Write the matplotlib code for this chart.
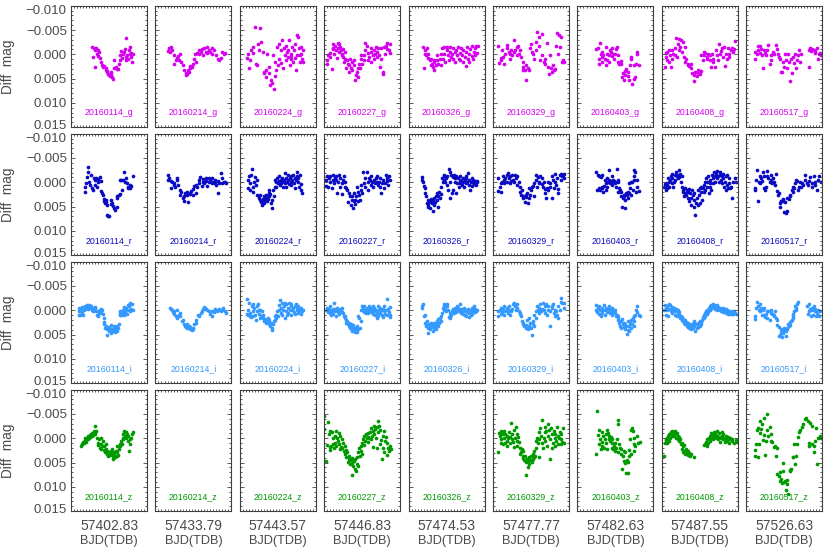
import numpy as np
import matplotlib
matplotlib.use("Agg")
import matplotlib.pyplot as plt
from matplotlib.ticker import MultipleLocator
from matplotlib.transforms import ScaledTranslation

plt.rcParams['font.family'] = ['Liberation Sans', 'DejaVu Sans']

nights = ['20160114', '20160214', '20160224', '20160227', '20160326',
          '20160329', '20160403', '20160408', '20160517']
bjd_start = ['57402.83', '57433.79', '57443.57', '57446.83', '57474.53',
             '57477.77', '57482.63', '57487.55', '57526.63']
filters = ['g', 'r', 'i', 'z']
colors = ['#D400EE', '#0A0AC4', '#3399FF', '#009A00']
ytick_vals = [-0.010, -0.005, 0.000, 0.005, 0.010, 0.015]

# light curves, flat pairs: (time as % of the night window, diff mag in mmag)
g_0114 = [27,-1.4, 30,-1.3, 33,-1.2, 35,-0.8, 32,-0.8, 29,0.5, 34,-0.1, 37,-0.5, 38,0.7, 32,2.7,
          36,0.4, 39,1.6, 41,2.2, 42,2.6, 44,2.4, 46,2.9, 46,3.3, 47,3.4, 48,3.7, 49,4.0,
          50,4.2, 51,4.5, 52,4.1, 53,3.6, 54,4.6, 55,5.0, 56,2.9, 57,1.2, 59,2.6, 60,3.1,
          62,3.1, 63,1.9, 64,1.1, 65,0.1, 66,-0.7, 67,0.7, 68,-0.1, 70,-0.5, 71,-1.0, 72,-3.3,
          72,0.5, 73,1.1, 74,0.2, 75,0.9, 76,-0.8, 77,-0.1, 78,-1.4, 79,-0.3, 79,0.5, 80,1.6, 81,0.0]
g_0214 = [16,-0.7, 18,-1.2, 21,-1.6, 19,-0.5, 22,-0.8, 24,0.2, 25,1.9, 27,1.2, 28,0.7, 30,0.4,
          31,1.1, 33,-0.1, 34,1.6, 36,2.2, 38,3.3, 40,3.8, 40,4.3, 42,4.1, 43,3.3, 44,3.6,
          46,2.4, 46,2.9, 48,2.6, 49,2.0, 51,0.9, 52,-0.1, 53,1.6, 55,-0.3, 57,-0.8, 58,0.0,
          60,-0.5, 61,-1.0, 63,0.2, 64,-1.2, 66,-0.5, 68,-1.4, 68,-0.3, 70,-0.8, 72,-0.5, 74,-1.2,
          75,-0.1, 77,-0.8, 80,0.2, 82,0.9, 84,1.2, 86,0.7, 88,-0.5, 90,-0.1, 92,-0.3]
g_0224 = [9,0.7, 11,-0.1, 12,2.9, 13,1.2, 15,-0.8, 17,-0.3, 18,-1.5, 20,-5.7, 21,1.9, 23,2.2,
          24,-2.2, 25,-0.8, 27,-5.4, 28,-2.5, 30,-0.5, 32,3.9, 32,3.6, 34,4.6, 35,3.3, 36,-0.1,
          38,3.8, 39,2.6, 40,6.3, 41,5.3, 42,6.0, 44,0.2, 45,7.2, 46,4.5, 46,1.6, 47,3.3,
          49,-1.5, 50,2.2, 51,-2.2, 52,0.9, 54,-0.8, 54,1.8, 56,-2.9, 57,2.9, 58,-1.2, 59,0.2,
          61,1.2, 61,-1.8, 63,0.5, 64,-0.8, 65,-2.9, 66,2.2, 67,0.9, 68,-0.1, 69,-1.5, 70,1.6,
          71,-0.8, 72,-2.2, 74,3.3, 75,-3.9, 75,0.2, 76,-3.5, 78,-1.2, 79,1.6, 80,-0.1, 81,-1.5,
          82,0.9, 83,-0.8, 83,1.6, 62,-0.5, 68,0.4, 73,0.7, 79,0.2]
g_0227 = [4,1.9, 4,1.1, 5,0.2, 7,-0.3, 8,0.5, 10,3.1, 11,-1.0, 11,-2.2, 12,-1.2, 13,-0.1,
          14,-1.8, 15,-0.8, 17,0.7, 18,-2.3, 18,-1.2, 19,-2.2, 20,-0.5, 21,-1.5, 22,-0.8, 23,0.2,
          24,-0.1, 25,-1.0, 25,0.5, 26,1.6, 27,-0.5, 28,0.9, 29,2.9, 30,1.2, 31,1.9, 32,3.6,
          33,2.2, 34,0.9, 35,2.9, 36,1.6, 37,3.3, 39,1.2, 39,2.2, 41,5.2, 42,4.3, 43,3.6,
          44,4.6, 45,2.9, 46,1.9, 47,2.9, 48,0.9, 49,0.2, 50,1.9, 52,0.2, 53,1.2, 54,-0.8,
          54,-2.3, 56,-1.8, 57,-0.3, 58,1.2, 59,0.5, 61,-0.5, 61,1.6, 62,-1.2, 64,0.2, 65,0.9,
          66,-0.8, 67,-0.1, 68,-1.5, 69,0.5, 70,-0.5, 71,-1.2, 72,0.2, 74,2.6, 75,0.9, 75,-1.2,
          77,3.6, 78,4.1, 79,-1.5, 80,-0.1, 81,-1.8, 82,-1.0, 83,-2.3, 85,-0.8, 86,-2.2, 86,-0.3]
g_0326 = [19,-1.6, 20,2.9, 21,-0.1, 22,-0.8, 23,0.2, 24,-1.2, 25,0.7, 26,-0.1, 28,1.2, 29,2.2,
          29,0.9, 31,1.9, 32,2.6, 33,1.6, 34,3.3, 34,1.2, 36,2.2, 37,0.2, 38,1.2, 39,1.9,
          41,0.9, 42,2.2, 42,-0.1, 44,-1.2, 45,0.9, 46,-1.5, 47,-0.1, 48,1.6, 50,-0.8, 50,-1.5,
          52,0.2, 53,1.2, 54,-0.5, 55,-1.5, 56,0.5, 57,-0.1, 58,-1.2, 59,0.9, 61,-0.5, 61,1.6,
          63,-0.8, 64,0.2, 65,-1.5, 66,0.9, 67,-0.3, 68,1.2, 69,-1.2, 70,0.2, 71,1.6, 72,-0.8,
          74,0.5, 75,2.4, 76,-0.5, 77,-1.5, 78,0.9, 79,-0.1, 80,1.6, 81,-1.0, 83,0.4, 83,-1.8,
          85,0.9, 86,-0.5, 87,-1.2, 88,0.2, 89,-1.8, 90,-0.3, 91,-1.8]
g_0329 = [7,-1.7, 8,1.8, 10,0.7, 11,1.2, 12,-0.8, 13,0.5, 15,1.9, 16,-0.1, 18,-1.2, 19,-2.0,
          21,-0.5, 22,0.9, 23,0.0, 24,-0.8, 25,0.2, 27,-0.5, 28,-3.0, 29,-0.8, 31,-1.5, 32,0.2,
          33,-1.8, 34,-0.1, 36,-0.8, 37,0.5, 39,3.3, 39,2.6, 40,1.6, 42,3.3, 43,2.2, 44,5.3,
          46,2.9, 47,3.3, 49,-1.2, 50,-2.2, 51,-0.5, 53,-0.1, 54,0.9, 56,-2.5, 57,-0.8, 58,-4.6,
          60,-1.8, 61,-3.5, 62,1.2, 64,0.2, 65,-4.2, 67,1.6, 68,0.9, 69,1.9, 71,-2.4, 72,2.6,
          74,4.1, 75,0.2, 76,2.9, 78,3.6, 79,2.2, 80,3.3, 82,3.1, 83,-1.8, 84,-4.4, 86,-0.1,
          87,-3.9, 88,-1.5, 89,-3.5, 91,1.6, 92,1.1, 93,1.6]
g_0403 = [25,-1.0, 27,-1.2, 28,2.0, 29,0.9, 30,-2.3, 31,-0.1, 32,0.5, 32,1.6, 33,-0.5, 34,0.2,
          36,0.9, 37,2.2, 38,-1.4, 39,-0.1, 39,1.2, 41,0.2, 42,1.6, 43,-0.8, 44,-0.5, 45,0.4,
          46,-1.2, 47,0.0, 48,0.9, 50,-0.1, 51,-1.0, 52,-1.5, 53,0.2, 54,1.6, 55,1.9, 57,1.4,
          58,2.0, 59,4.6, 60,3.9, 61,5.2, 62,3.4, 63,4.3, 64,3.1, 66,3.6, 67,4.5, 68,5.3,
          69,2.2, 70,0.9, 71,0.5, 72,6.2, 74,5.0, 75,2.2, 76,4.6, 77,1.9, 78,-0.1, 79,-0.5, 81,2.1]
g_0408 = [4,2.7, 5,-0.3, 6,0.5, 7,-0.5, 7,1.1, 9,-0.8, 10,1.6, 11,0.2, 12,2.6, 13,-0.8,
          14,0.9, 15,-0.1, 17,-1.2, 18,0.2, 19,-3.4, 20,0.5, 21,-2.2, 22,-3.2, 23,-0.8, 24,-1.5,
          25,-3.0, 27,-0.5, 28,-2.5, 29,0.5, 30,-1.5, 31,1.6, 32,0.9, 34,2.2, 35,1.9, 36,2.4,
          38,2.0, 39,2.9, 40,3.9, 42,5.4, 43,4.3, 44,3.6, 46,4.5, 47,3.8, 48,3.3, 50,4.1,
          51,3.4, 52,0.2, 54,1.2, 55,-0.5, 56,0.2, 57,-0.3, 59,0.5, 60,0.9, 61,-0.1, 63,0.2,
          64,1.2, 65,2.7, 66,-0.1, 67,0.9, 68,1.6, 70,2.6, 71,-0.8, 72,0.2, 74,1.2, 75,-2.2,
          76,-0.1, 78,-0.7, 79,-1.2, 80,0.5, 82,-1.6, 83,2.4, 84,-0.1, 86,0.9, 87,-1.2, 88,-0.1,
          89,0.5, 91,-0.8, 92,-1.2, 94,-0.5, 95,-1.0, 96,-2.7]
g_0517 = [11,-0.5, 12,0.9, 14,0.0, 15,-0.8, 16,-1.8, 18,-1.8, 18,-0.3, 20,-1.0, 21,0.2, 22,2.9,
          24,-0.8, 25,-0.3, 26,0.2, 28,-0.8, 29,-2.0, 31,1.9, 32,1.1, 33,0.2, 35,-0.5, 36,-0.1,
          39,-2.0, 40,-1.0, 42,-0.1, 43,0.5, 44,0.9, 46,3.6, 47,3.6, 48,1.6, 50,2.6, 51,0.0,
          52,1.1, 54,2.9, 55,-0.1, 56,1.6, 57,5.4, 59,0.9, 60,3.9, 61,0.5, 63,1.8, 64,-0.1,
          65,2.9, 67,1.1, 68,0.2, 69,-0.8, 71,1.6, 72,-0.1, 82,2.6, 83,-0.8, 84,-1.2, 85,-0.7,
          87,-1.0, 89,-0.8, 90,-0.3, 91,-0.7, 93,-1.2, 94,0.9, 96,0.0, 97,-0.3, 98,0.2]

r_0114 = [18,0.9, 18,1.9, 20,0.2, 21,-1.0, 22,-2.2, 23,-3.2, 24,-0.1, 25,0.5, 26,-1.5, 27,1.1,
          29,1.6, 30,-0.8, 31,0.5, 32,-0.5, 33,-0.8, 34,0.9, 35,-0.7, 36,-0.1, 38,-1.0, 39,-0.3,
          39,1.8, 41,2.2, 42,2.6, 43,3.4, 44,3.8, 45,4.3, 46,3.6, 46,4.1, 47,4.6, 48,6.8,
          49,7.0, 50,7.0, 52,4.5, 53,3.6, 54,4.3, 55,4.8, 57,5.2, 58,5.6, 60,5.0, 61,2.9,
          61,3.3, 63,2.6, 64,-0.5, 65,2.4, 66,-0.4, 67,1.6, 68,-0.5, 70,-2.2, 71,-0.1, 72,-0.8,
          74,0.2, 75,0.9, 75,1.1, 77,0.5, 78,1.2, 79,0.7, 81,-1.2]
r_0214 = [16,-1.6, 17,-0.5, 18,-0.8, 20,1.2, 21,-0.3, 22,0.0, 24,0.2, 25,0.5, 26,0.9, 28,-0.8,
          29,-0.5, 30,0.5, 32,2.7, 33,1.6, 34,1.9, 36,3.3, 37,3.8, 38,2.9, 39,2.2, 41,2.6,
          42,1.9, 43,4.1, 45,2.4, 46,2.2, 47,1.8, 49,2.6, 50,1.4, 51,0.7, 53,2.2, 54,0.5,
          55,0.9, 57,0.2, 58,-0.5, 59,-1.0, 61,0.7, 62,-0.7, 63,-0.1, 64,0.2, 66,-0.8, 67,-0.3,
          68,0.7, 70,-0.8, 71,-0.1, 72,-0.5, 74,0.2, 75,-0.8, 76,-0.1, 78,-0.5, 79,0.2, 80,0.5,
          82,-0.3, 83,2.2, 84,0.2, 86,-2.0, 87,-0.8, 88,0.2, 90,-0.1, 91,0.0, 93,0.2]
r_0224 = [11,1.1, 11,-0.5, 12,-1.2, 13,0.2, 14,1.6, 15,-1.5, 16,-2.7, 17,0.9, 18,1.9, 19,-0.1,
          20,-1.0, 21,0.5, 22,-0.5, 23,2.6, 25,2.9, 25,3.3, 26,2.6, 27,3.6, 28,4.1, 29,4.6,
          30,3.4, 31,3.8, 32,4.3, 32,2.9, 33,3.6, 34,3.3, 35,2.6, 36,3.9, 37,3.4, 38,2.2,
          39,2.9, 39,1.6, 40,2.4, 41,4.3, 42,5.2, 43,3.6, 44,1.6, 45,2.9, 46,0.9, 46,-0.5,
          47,0.9, 48,-0.1, 49,-0.8, 50,0.2, 51,-1.2, 52,-0.3, 53,0.5, 54,-0.5, 54,0.2, 55,-0.8,
          56,-0.1, 57,0.9, 58,-0.5, 59,-2.0, 60,0.2, 61,-0.8, 61,0.9, 62,-0.1, 63,-1.5, 64,-0.5,
          65,0.4, 66,-0.8, 67,-0.1, 68,-1.2, 68,0.5, 69,-0.5, 70,-1.5, 71,0.2, 72,-0.8, 73,1.1,
          74,-0.5, 75,-1.2, 75,-2.2, 76,-0.1, 77,-0.8, 78,0.9, 79,-1.5, 80,0.4, 81,1.6, 82,2.2]
r_0227 = [2,0.7, 3,-0.5, 4,-1.2, 5,0.9, 6,-0.8, 7,-0.1, 8,-1.2, 10,1.1, 11,-0.5, 12,-1.5,
          13,0.2, 14,-0.8, 15,-1.2, 16,-0.5, 17,2.2, 18,-0.1, 19,-1.5, 21,0.9, 21,-0.8, 23,2.4,
          24,0.2, 25,-0.5, 26,-1.2, 27,0.9, 28,-0.1, 29,1.2, 30,1.6, 31,4.1, 32,2.2, 34,2.9,
          35,4.6, 36,3.6, 37,2.9, 38,5.2, 39,3.9, 39,2.2, 40,3.6, 41,4.5, 42,2.9, 43,0.9,
          44,1.9, 45,3.9, 46,2.6, 47,3.6, 48,1.6, 49,0.5, 50,2.2, 51,-2.2, 52,0.2, 54,-0.8,
          54,0.9, 56,-2.2, 57,-0.1, 58,1.6, 59,-0.8, 60,-0.5, 61,0.5, 62,-1.2, 63,-0.1, 64,0.9,
          65,-0.5, 67,0.2, 68,-0.8, 69,-0.1, 70,-1.2, 71,0.5, 72,-0.1, 73,0.9, 74,-0.8, 75,2.2,
          76,0.2, 78,-0.5, 79,1.1, 80,0.2, 81,-1.5, 82,-0.3, 83,-0.8, 84,0.5, 85,-1.2, 86,-0.5]
r_0326 = [18,-1.0, 18,-0.5, 19,-0.1, 20,0.7, 21,1.1, 22,2.2, 23,2.9, 24,4.3, 25,5.0, 25,3.6,
          26,4.6, 27,4.1, 28,5.3, 29,3.9, 30,3.4, 31,4.3, 32,5.9, 32,3.6, 33,4.6, 34,3.3,
          35,4.1, 36,2.9, 37,3.6, 38,2.2, 39,2.9, 39,5.0, 40,1.9, 41,3.3, 42,2.4, 43,0.9,
          44,-0.8, 45,-0.1, 46,-1.2, 47,-0.5, 47,-1.5, 48,-0.1, 49,-0.8, 50,0.5, 51,-1.2, 52,1.6,
          53,-2.7, 54,-0.1, 54,-2.2, 55,3.3, 56,-1.5, 57,2.2, 58,-1.0, 59,1.6, 60,-1.5, 61,-0.1,
          61,-0.8, 62,2.2, 63,-1.2, 64,0.2, 65,-0.8, 66,0.9, 67,-0.3, 68,-1.2, 68,0.2, 69,-0.5,
          70,0.5, 71,-0.8, 72,-0.1, 73,0.9, 74,-0.5, 75,-1.2, 75,0.2, 76,-0.8, 77,-0.1, 78,-2.0,
          79,0.5, 80,-0.5, 81,1.6, 82,-0.1, 83,-0.8, 83,0.7, 84,-0.1, 85,-0.5, 86,0.4, 87,-0.3,
          88,0.2, 89,0.5, 90,-0.3, 90,0.0]
r_0329 = [7,1.8, 7,-0.8, 9,0.9, 10,1.9, 11,0.2, 12,-0.1, 13,-1.2, 14,-0.5, 15,0.2, 16,-0.8,
          18,-1.5, 18,-0.1, 20,-2.0, 21,-0.8, 22,0.2, 23,-1.2, 24,-0.3, 25,-1.5, 26,-0.5, 28,-0.1,
          29,-1.4, 30,-0.8, 31,-1.2, 32,0.5, 34,-0.1, 35,0.9, 36,1.9, 37,2.6, 38,1.6, 39,2.9,
          40,3.3, 42,4.1, 43,2.6, 44,3.1, 45,2.2, 46,4.3, 47,3.3, 48,1.2, 49,2.6, 50,1.6,
          51,0.9, 52,0.7, 54,2.9, 54,0.2, 56,-0.5, 57,-1.6, 58,0.9, 59,-1.0, 60,-0.1, 61,0.2,
          62,-1.2, 64,0.4, 65,-0.8, 66,0.9, 67,-0.1, 68,1.4, 69,2.2, 70,3.3, 71,1.2, 72,-0.1,
          73,1.6, 75,0.2, 75,0.9, 77,3.3, 78,-1.2, 79,-0.5, 80,1.1, 81,-1.8, 82,-0.1, 83,0.5,
          84,-0.8, 86,2.2, 86,1.4, 88,-1.5, 89,-0.5, 90,-1.8, 91,-1.2, 92,-1.5, 93,-1.8, 94,-0.8]
r_0403 = [25,-2.2, 26,1.6, 27,-1.5, 28,1.1, 29,-1.2, 30,1.6, 31,-1.0, 32,0.9, 32,1.2, 33,-1.5,
          34,1.9, 35,0.7, 36,-0.5, 37,1.6, 38,0.2, 39,-0.8, 39,0.9, 40,-0.1, 41,-0.5, 42,-2.5,
          43,0.2, 44,-0.3, 45,-1.2, 46,-0.1, 46,0.5, 47,-0.5, 48,-0.3, 49,0.2, 50,-0.1, 51,0.9,
          52,-2.7, 53,-0.5, 54,-0.1, 54,1.9, 55,1.2, 56,1.6, 57,2.0, 58,2.9, 59,5.0, 60,3.3,
          61,2.6, 61,2.9, 62,3.6, 63,5.2, 64,2.2, 65,2.6, 66,1.9, 67,3.3, 68,2.2, 68,0.2,
          69,1.2, 70,-0.1, 71,2.6, 72,-0.1, 73,1.6, 74,-0.5, 75,-2.5, 75,-1.2, 76,-2.2, 77,1.9,
          78,-0.5, 79,0.9, 81,1.8]
r_0408 = [3,0.9, 4,0.4, 5,1.6, 6,0.2, 7,0.5, 7,1.2, 8,-0.8, 9,-0.1, 10,0.9, 11,-0.5,
          12,-1.2, 13,0.2, 14,-1.8, 14,-0.8, 15,0.9, 16,-0.1, 17,-1.5, 18,-0.5, 19,-2.2, 20,-1.2,
          21,-0.8, 21,-1.5, 22,-2.5, 23,-1.0, 24,-1.8, 25,-0.1, 26,-1.2, 27,0.9, 28,1.9, 28,1.6,
          29,2.9, 30,2.2, 31,1.2, 32,2.6, 33,1.6, 34,3.3, 35,1.9, 36,3.9, 36,1.4, 37,2.2,
          38,4.6, 39,3.3, 40,1.6, 41,2.6, 42,5.0, 43,3.6, 43,2.2, 44,6.7, 45,4.3, 46,3.3,
          47,4.6, 48,1.6, 49,2.6, 50,1.1, 50,4.3, 51,2.0, 52,0.9, 53,3.6, 54,1.2, 55,1.9,
          56,0.5, 57,-0.1, 57,1.6, 58,-0.8, 59,0.9, 60,-0.1, 61,-1.2, 62,2.2, 63,0.2, 64,0.9,
          64,-0.5, 65,1.6, 66,-1.5, 67,0.2, 68,-0.8, 69,-2.2, 70,-1.2, 70,-0.1, 71,-1.8, 72,-0.8,
          73,-2.3, 74,-1.2, 75,-0.1, 76,-1.5, 77,-2.2, 78,-0.5, 79,-1.2, 79,0.2, 80,-1.8, 81,-0.8,
          82,0.9, 83,-0.1, 84,-1.2, 85,1.6, 86,0.5, 86,-1.5, 87,1.2, 88,0.2, 89,-0.8, 90,1.2,
          91,0.9, 93,3.3, 94,-0.1, 96,-0.8, 98,0.0]
r_0517 = [11,1.6, 12,1.2, 13,-0.5, 14,-2.5, 16,3.8, 17,-0.1, 18,-1.2, 18,0.2, 19,-0.8, 21,-0.3,
          22,-2.2, 23,-1.2, 24,1.2, 25,1.6, 26,0.9, 27,-1.2, 28,-2.3, 29,-0.8, 31,-0.1, 32,-1.5,
          33,-0.5, 34,0.2, 35,-0.8, 36,-0.1, 38,0.5, 39,-1.8, 40,1.8, 42,2.6, 43,2.2, 44,5.0,
          45,4.3, 46,3.8, 46,3.9, 48,3.8, 49,3.4, 50,6.1, 51,4.1, 52,6.3, 54,3.3, 54,5.9,
          56,3.4, 57,2.9, 58,2.6, 60,1.6, 61,1.9, 62,0.9, 63,1.2, 64,0.2, 66,-0.5, 67,-0.3,
          68,1.6, 70,0.9, 71,-0.1, 72,0.9, 74,0.2, 75,0.5, 77,-0.5, 78,-1.5, 80,0.2, 81,0.5,
          82,-0.3, 84,-1.0, 86,0.9, 87,0.2, 89,-1.2, 90,-0.1, 91,0.5, 93,1.6, 95,-0.5, 96,-1.2, 98,-0.1]

i_0114 = [10,0.9, 11,0.2, 11,-0.5, 12,0.9, 13,-0.1, 14,-0.7, 15,0.5, 16,0.9, 17,0.0, 18,-0.3,
          18,-0.8, 19,-0.5, 20,-0.7, 21,-1.0, 22,-0.8, 23,-0.3, 24,-1.0, 25,-0.7, 25,-0.5, 26,-0.8,
          27,-0.1, 28,-0.5, 29,0.2, 30,-0.3, 31,-0.7, 32,-0.1, 32,-0.5, 33,0.2, 34,0.9, 35,1.2,
          36,0.2, 37,0.5, 38,-0.1, 39,0.5, 39,-0.3, 41,0.0, 42,0.7, 43,1.6, 43,2.4, 44,2.9,
          45,3.6, 46,3.3, 47,3.9, 48,5.0, 49,3.8, 50,4.3, 50,3.4, 51,3.9, 52,4.6, 53,3.1,
          54,3.8, 55,4.3, 56,3.3, 57,3.9, 57,3.4, 58,4.5, 59,3.6, 60,4.3, 61,3.3, 62,3.6,
          63,2.9, 64,0.9, 64,0.2, 65,0.5, 66,0.9, 67,0.7, 68,0.4, 69,-0.1, 70,-0.7, 70,0.9,
          71,0.4, 72,-0.5, 73,-0.1, 74,0.7, 75,-1.0, 76,-0.1, 76,-0.8, 77,-1.5, 78,0.2, 79,-0.3,
          80,-1.2, 81,-0.1]
i_0214 = [19,-0.5, 20,-0.3, 22,0.0, 23,0.4, 24,0.2, 25,0.7, 27,1.1, 28,0.0, 29,1.6, 31,0.9,
          32,0.5, 33,1.2, 35,2.2, 36,1.9, 37,2.9, 39,3.3, 40,3.4, 41,2.9, 42,3.6, 44,3.3,
          45,3.8, 46,3.4, 48,4.1, 49,3.6, 50,3.9, 51,2.9, 53,2.6, 54,1.9, 56,0.9, 58,1.2,
          60,0.5, 61,0.2, 63,-0.3, 64,-0.7, 65,-0.5, 67,-0.3, 68,-0.1, 70,0.2, 72,0.7, 74,1.1,
          75,0.2, 77,0.4, 79,-0.3, 81,0.2, 82,0.0, 84,-0.3, 86,0.2, 88,-0.1, 89,-0.5, 91,0.2, 93,0.5]
i_0224 = [9,-2.3, 10,0.7, 11,0.9, 11,-0.1, 12,-1.5, 13,1.1, 14,0.5, 15,1.4, 16,-0.8, 17,0.2,
          18,-1.2, 18,1.2, 19,-0.5, 20,0.9, 21,1.9, 22,0.2, 23,-0.8, 24,-1.2, 25,-0.1, 25,0.7,
          26,1.6, 27,-0.1, 28,1.2, 29,0.2, 30,0.9, 31,1.6, 32,1.9, 32,2.2, 33,1.8, 34,2.6,
          35,2.0, 36,2.2, 37,1.6, 38,2.9, 39,2.4, 39,1.9, 40,3.3, 41,2.6, 42,3.6, 43,4.1,
          44,2.9, 45,2.2, 46,1.2, 46,1.9, 47,0.9, 48,1.6, 49,0.2, 50,1.1, 51,-0.1, 52,-1.0,
          53,-2.2, 54,0.5, 54,-0.5, 55,-1.5, 56,0.9, 57,-0.1, 58,-0.8, 59,1.6, 60,-1.6, 61,0.2,
          61,-1.2, 62,0.9, 63,-0.5, 64,0.5, 65,-1.5, 66,-0.1, 67,-0.8, 68,0.9, 68,-1.2, 69,0.0,
          70,-0.5, 71,0.4, 72,-0.8, 73,0.7, 74,-1.2, 75,-0.1, 75,-0.5, 76,0.5, 77,-0.8, 78,0.2,
          79,-0.3, 80,0.7, 81,-0.5, 82,0.2, 83,-0.1]
i_0227 = [3,0.0, 4,-0.5, 5,0.4, 6,-0.3, 7,0.5, 7,0.0, 8,-0.8, 9,0.9, 10,0.2, 11,-0.3,
          12,0.7, 13,-1.5, 14,0.2, 14,-0.3, 15,1.1, 16,0.0, 17,-0.5, 18,0.4, 19,-0.1, 20,0.7,
          21,-0.3, 21,0.2, 22,-0.1, 23,0.4, 24,-0.5, 25,0.5, 26,1.2, 27,1.6, 28,1.1, 29,2.0,
          29,2.6, 30,2.2, 31,2.9, 32,3.3, 33,2.6, 34,3.6, 35,2.9, 36,3.9, 36,3.3, 37,4.3,
          38,3.1, 39,3.8, 40,4.5, 41,3.6, 42,4.3, 43,3.3, 43,4.5, 44,3.9, 45,1.2, 46,1.6,
          47,3.6, 48,-0.1, 49,2.2, 50,-0.8, 50,0.0, 51,-0.5, 52,0.4, 53,-0.8, 54,0.0, 55,0.5,
          56,-0.5, 57,0.2, 57,-0.3, 58,0.5, 59,-0.8, 60,0.0, 61,-0.5, 62,0.4, 63,-0.1, 64,-0.8,
          64,0.7, 65,0.2, 66,-0.5, 67,0.9, 68,-0.1, 69,1.6, 70,0.5, 71,-0.8, 71,1.1, 72,-0.1,
          73,-0.5, 74,0.5, 75,0.0, 76,0.9, 77,-0.3, 78,1.4, 79,0.2, 79,-0.8, 80,0.7, 81,-0.1,
          82,0.9, 83,-2.3, 84,-0.3, 85,0.4, 86,-0.7, 86,0.9, 87,1.4]
i_0326 = [18,-0.8, 18,-0.5, 19,-1.2, 20,1.1, 21,0.9, 22,2.6, 23,3.3, 24,2.2, 25,3.1, 25,3.6,
          26,4.6, 27,2.9, 28,3.9, 29,3.4, 30,2.6, 31,3.3, 32,4.3, 32,2.9, 33,3.6, 34,2.6,
          35,3.3, 36,3.8, 37,2.9, 38,2.2, 39,3.3, 39,1.8, 40,2.6, 41,1.6, 42,2.2, 43,1.2,
          44,0.5, 45,-0.5, 46,-0.1, 47,-0.8, 47,-1.2, 48,-0.3, 49,0.2, 50,-0.8, 51,-1.2, 52,0.0,
          53,1.4, 54,1.6, 54,0.5, 55,1.2, 56,0.9, 57,0.2, 58,0.0, 59,-0.3, 60,0.5, 61,0.2,
          61,-0.5, 62,-0.1, 63,0.4, 64,-0.8, 65,-0.5, 66,0.2, 67,-0.3, 68,-1.2, 68,0.0, 69,0.5,
          70,-0.3, 71,0.2, 72,0.7, 73,-0.5, 74,0.9, 75,0.2, 75,-0.1, 76,1.2, 77,0.4, 78,-0.3,
          79,0.5, 80,1.4, 81,-0.1, 82,0.9, 83,-0.5, 83,0.2, 84,0.7, 85,-0.1, 86,-0.8, 87,0.4,
          88,-0.3, 89,0.2, 90,0.0]
i_0329 = [7,1.2, 7,0.2, 9,-0.1, 10,0.7, 11,-0.5, 12,0.4, 13,-0.3, 14,0.9, 15,-0.8, 16,0.2,
          18,-0.1, 18,-0.5, 20,0.5, 21,-0.8, 22,0.0, 23,0.9, 24,0.2, 25,-0.3, 26,-1.2, 28,-1.5,
          29,-0.8, 30,0.0, 31,-1.2, 32,-0.5, 34,0.2, 35,0.7, 36,0.5, 37,1.2, 38,2.2, 39,2.9,
          40,2.6, 41,3.3, 43,3.6, 44,3.1, 45,1.9, 46,3.9, 47,3.3, 48,1.6, 49,2.6, 50,3.6,
          51,5.0, 52,2.2, 53,2.9, 54,3.3, 54,0.9, 56,1.6, 57,0.2, 58,-0.8, 59,-0.1, 60,0.5,
          61,-0.5, 62,-1.2, 63,0.2, 64,-0.3, 66,-1.6, 67,-0.1, 68,-0.8, 69,0.5, 70,-1.2, 71,0.9,
          72,-0.1, 73,-0.8, 75,0.2, 75,3.3, 77,-0.5, 78,-0.8, 79,-1.2, 80,0.5, 81,0.0, 82,1.2,
          83,0.2, 84,0.9, 86,1.6, 86,-0.8, 88,-0.1, 89,-2.5, 90,-1.8, 91,-1.5, 93,-0.5, 94,-1.4]
i_0403 = [25,-1.0, 25,-0.1, 26,0.4, 27,-0.5, 28,-0.8, 29,0.7, 30,0.0, 31,1.2, 32,0.2, 32,-0.5,
          33,0.5, 34,-0.1, 35,-1.0, 36,0.9, 37,0.0, 38,-0.5, 39,0.4, 39,-0.1, 40,0.2, 41,-0.3,
          42,-0.8, 43,0.5, 44,0.0, 45,-0.5, 46,0.4, 46,0.9, 47,-0.1, 48,0.2, 49,0.5, 50,0.0,
          51,1.2, 52,0.9, 53,1.6, 54,2.0, 54,1.1, 55,2.6, 56,3.3, 57,2.2, 58,3.6, 59,1.8,
          60,2.9, 61,3.4, 61,2.6, 62,3.8, 63,2.9, 64,3.3, 65,4.8, 66,2.2, 67,4.1, 68,3.3,
          68,4.3, 69,2.6, 70,3.6, 71,1.9, 72,2.9, 73,1.6, 74,3.3, 75,1.1, 75,2.2, 76,0.9,
          77,-0.1, 78,-0.8, 79,0.4, 81,0.9, 82,1.2]
i_0408 = [3,-0.1, 4,-1.0, 5,0.9, 6,-0.5, 7,0.0, 7,-0.8, 8,1.2, 9,-1.2, 10,-0.3, 11,-1.0,
          12,0.2, 13,-0.7, 14,0.5, 14,-0.3, 15,0.0, 16,-0.5, 17,0.9, 18,0.2, 19,-0.3, 20,1.2,
          21,0.5, 21,0.0, 22,0.9, 23,0.4, 24,1.6, 25,1.1, 26,1.9, 27,1.4, 28,2.2, 28,1.8,
          29,2.6, 30,2.0, 31,2.9, 32,2.4, 33,3.3, 34,2.7, 35,3.4, 36,2.9, 36,3.6, 37,3.1,
          38,3.9, 39,3.3, 40,2.9, 41,3.6, 42,2.6, 43,3.3, 43,2.2, 44,4.3, 45,2.9, 46,3.6,
          47,2.6, 48,3.4, 49,2.9, 50,2.2, 50,3.3, 51,2.4, 52,2.9, 53,1.9, 54,1.4, 55,0.9,
          56,1.6, 57,0.5, 57,1.1, 58,0.2, 59,0.7, 60,-0.1, 61,0.4, 62,-0.5, 63,0.0, 64,-0.8,
          64,-0.3, 65,-1.0, 66,-0.5, 67,-1.2, 68,-0.7, 69,-1.0, 70,-0.3, 70,-0.8, 71,-0.5, 72,-1.0,
          73,-0.1, 74,-0.7, 75,-0.3, 76,0.0, 77,-0.5, 78,0.2, 79,-0.3, 79,0.0, 80,-0.5, 81,0.4,
          82,-0.1, 83,0.2, 84,-0.3, 85,0.5, 86,0.0, 86,0.4, 87,0.7, 88,0.2, 89,0.7, 90,0.4,
          91,0.7, 92,0.2, 93,0.7, 93,0.4, 94,0.7, 95,0.2, 96,0.5, 98,0.7]
i_0517 = [11,1.8, 12,1.2, 13,-0.5, 14,-1.8, 16,-0.8, 17,-0.1, 18,-1.2, 18,0.2, 19,-0.5, 21,0.9,
          22,0.0, 23,-0.5, 24,0.9, 25,1.4, 26,0.7, 27,0.2, 28,1.6, 29,0.2, 31,1.9, 32,0.5,
          33,-0.1, 34,0.7, 36,1.2, 37,0.9, 38,0.2, 39,1.6, 40,1.9, 41,3.1, 43,3.4, 43,5.3,
          45,5.0, 46,3.9, 46,4.5, 47,5.4, 48,4.3, 49,4.6, 50,3.6, 51,4.1, 52,5.3, 53,4.3,
          54,3.6, 54,3.9, 55,2.9, 56,3.3, 57,2.4, 58,3.1, 59,2.2, 60,1.9, 61,1.2, 61,0.7,
          62,1.6, 63,0.2, 64,-0.8, 65,-0.1, 66,-0.5, 67,-1.2, 68,-1.8, 80,-0.8, 81,0.7, 82,-1.2,
          83,0.2, 84,-0.3, 85,1.2, 86,-0.5, 87,0.0, 88,0.9, 89,-0.8, 90,0.2, 91,-0.3, 92,1.2,
          93,0.5, 94,-0.1, 95,0.9, 96,1.2, 97,0.2]

z_0114 = [13,1.6, 14,1.1, 15,1.2, 16,0.7, 17,0.9, 18,0.4, 18,0.5, 19,0.0, 20,0.7, 21,-0.1,
          22,0.2, 23,-0.5, 24,-0.1, 25,-0.7, 25,-0.3, 26,-0.8, 27,-0.5, 28,-1.0, 29,-0.7, 30,-1.5,
          31,-1.2, 32,-2.5, 32,-0.8, 33,-1.5, 34,-0.1, 35,0.9, 36,1.4, 37,0.2, 38,1.9, 39,-0.1,
          39,1.1, 40,2.2, 41,1.6, 42,0.5, 43,2.4, 44,1.6, 45,2.9, 46,1.2, 46,2.2, 47,3.3,
          48,2.6, 49,3.6, 50,2.9, 51,3.4, 52,2.6, 53,3.3, 54,2.2, 55,4.3, 55,3.6, 56,2.9,
          57,3.3, 58,3.9, 59,2.6, 60,3.6, 61,2.9, 61,1.6, 62,3.4, 63,2.2, 64,1.1, 65,1.6,
          66,0.5, 67,1.2, 68,-0.1, 68,-0.8, 69,0.2, 70,-1.5, 71,-0.5, 72,-1.2, 73,-0.1, 74,-0.8,
          75,0.5, 75,-0.5, 76,2.6, 77,0.2, 78,1.2, 79,-0.1, 80,-0.8, 81,-1.2]
z_0214 = []
z_0224 = []
z_0227 = [0,-4.6, 0,-2.0, 3,4.6, 4,1.4, 5,-3.4, 6,-0.8, 7,1.8, 7,-1.5, 8,2.4, 9,1.6,
          10,-1.2, 11,1.1, 12,-0.1, 13,1.9, 14,0.9, 14,-0.5, 15,1.6, 16,-1.5, 17,-0.1, 18,0.5,
          19,-1.0, 20,1.2, 21,-0.5, 21,2.2, 22,1.8, 23,0.2, 24,1.9, 25,0.9, 26,2.6, 27,1.6,
          28,3.3, 29,2.4, 29,3.9, 30,2.9, 31,4.8, 32,3.6, 33,4.3, 34,5.3, 35,4.5, 36,7.5,
          36,5.0, 37,4.1, 38,5.6, 39,4.6, 40,6.3, 41,4.3, 42,6.7, 43,5.2, 43,3.9, 44,2.9,
          45,5.6, 46,1.9, 47,3.6, 48,2.6, 49,1.6, 50,3.3, 50,0.9, 51,0.2, 52,1.4, 53,-0.5,
          54,0.5, 55,-0.8, 56,0.0, 57,-0.3, 57,0.7, 58,-1.0, 59,-0.1, 60,-1.2, 61,0.2, 62,-2.2,
          63,-0.5, 64,1.8, 64,-1.5, 65,-2.5, 66,-0.8, 67,-2.0, 68,-0.1, 69,-2.3, 70,1.9, 71,-3.5,
          71,-1.2, 72,-2.5, 73,1.1, 74,-1.8, 75,0.4, 76,4.3, 77,-0.5, 78,1.9, 79,-1.5, 79,2.9,
          80,0.5, 81,-0.3, 82,3.4, 83,0.9, 84,1.9, 85,2.6, 86,1.6, 88,2.2]
z_0326 = []
z_0329 = [7,2.9, 8,-1.0, 9,-0.5, 10,0.9, 11,-1.5, 11,0.2, 12,-0.8, 13,1.2, 14,-1.6, 15,-0.1,
          16,0.9, 16,-0.8, 18,0.5, 18,-0.5, 19,1.6, 20,0.0, 21,-1.2, 22,0.9, 23,-0.3, 24,-3.2,
          25,0.2, 25,-0.8, 26,0.7, 27,-1.8, 28,1.8, 29,-0.1, 30,-2.3, 31,0.5, 32,-0.8, 32,1.6,
          33,-0.3, 34,0.7, 35,2.0, 36,3.3, 37,2.9, 38,2.2, 39,3.6, 39,2.6, 40,4.1, 41,4.5,
          42,3.6, 43,7.5, 44,4.8, 45,4.3, 46,5.9, 46,4.6, 47,3.9, 48,5.3, 49,4.5, 50,3.6,
          51,4.8, 52,4.3, 53,3.3, 54,3.8, 54,2.6, 55,3.6, 56,0.5, 57,1.9, 58,-0.1, 59,0.9,
          60,-1.2, 61,0.2, 61,3.9, 62,-2.2, 63,-0.5, 64,0.9, 65,-3.7, 66,1.9, 67,-0.1, 68,-1.2,
          68,-2.3, 69,0.5, 70,-1.5, 71,1.6, 72,-2.9, 73,-0.5, 74,-1.8, 75,4.3, 75,0.2, 76,-2.2,
          77,-0.8, 78,2.0, 79,0.9, 80,-1.5, 81,-0.1, 82,1.6, 82,-0.8, 83,0.5, 84,-2.3, 85,-0.5,
          86,1.1, 87,-0.1, 88,-1.2, 89,0.2, 89,1.2, 90,-0.8, 91,0.7, 92,-2.2, 93,0.9]
z_0403 = [26,-5.7, 25,3.3, 27,-0.7, 28,-1.8, 29,1.2, 30,0.2, 31,2.2, 32,-1.2, 32,0.7, 33,1.6,
          34,-0.5, 35,1.9, 36,0.2, 37,-0.8, 38,0.9, 39,-1.8, 39,2.2, 40,-1.0, 41,0.2, 42,-0.5,
          43,0.5, 44,-0.3, 45,1.9, 46,0.9, 46,0.2, 47,2.2, 48,1.6, 49,2.6, 50,0.9, 51,2.0,
          52,0.2, 53,2.9, 54,-3.7, 54,-2.9, 55,1.2, 56,1.9, 57,3.3, 58,2.2, 59,6.3, 60,3.6,
          61,2.6, 61,4.6, 62,2.9, 63,5.0, 64,7.2, 65,4.5, 66,7.2, 67,4.8, 68,3.6, 68,2.4,
          69,0.2, 70,-1.8, 71,3.3, 72,-2.2, 73,-1.5, 74,1.2, 75,2.6, 75,-0.1, 76,1.6, 78,-0.5,
          80,0.9, 82,0.7]
z_0408 = [3,3.6, 4,0.9, 5,0.4, 6,0.2, 7,0.9, 7,-0.1, 8,-0.5, 9,0.5, 10,-0.8, 11,0.0,
          12,-1.2, 13,-0.5, 14,-1.4, 14,-0.8, 15,-1.2, 16,-0.5, 17,-1.5, 18,-0.8, 19,-0.1, 20,-1.0,
          21,-0.5, 21,0.2, 22,-0.3, 23,0.5, 24,0.2, 25,1.2, 26,0.9, 27,2.2, 28,1.6, 28,2.9,
          29,1.4, 30,2.6, 31,3.3, 32,2.2, 33,2.9, 34,3.4, 35,2.6, 36,3.1, 37,3.6, 39,3.3,
          43,3.8, 56,1.4, 57,1.1, 58,1.2, 58,0.7, 59,1.6, 60,0.2, 61,0.9, 62,0.0, 63,0.5,
          64,-0.5, 64,0.2, 65,-1.0, 66,-0.1, 67,-0.7, 68,0.2, 69,-1.2, 70,-0.3, 70,-0.8, 71,0.0,
          72,-1.5, 73,-0.5, 74,0.2, 75,-1.0, 76,-0.3, 77,0.7, 78,-0.1, 79,-0.5, 79,-1.2, 80,0.2,
          81,-0.8, 82,-0.1, 83,0.7, 84,-0.5, 85,0.2, 86,-0.1, 86,0.5, 87,-0.3, 88,0.2, 89,0.9,
          90,0.0, 92,0.5, 93,0.2, 95,0.9, 97,0.4, 99,0.7]
z_0517 = [11,2.4, 12,3.6, 13,1.2, 14,-1.8, 15,3.8, 16,-2.2, 17,1.2, 18,-3.5, 18,-1.0, 19,-2.0,
          21,-3.0, 22,0.4, 23,-0.7, 24,-4.2, 25,3.4, 26,0.5, 27,-4.9, 28,-1.8, 29,-0.5, 31,-2.3,
          32,0.5, 33,-0.8, 34,0.7, 36,1.8, 38,1.6, 39,3.6, 40,1.9, 41,7.3, 43,7.7, 44,8.7,
          45,7.0, 46,8.4, 47,9.3, 48,5.0, 49,6.8, 50,9.0, 51,8.7, 52,10.6, 54,8.6, 54,9.4,
          55,11.4, 57,6.5, 58,6.8, 59,6.3, 61,3.9, 61,3.8, 63,1.2, 64,5.3, 66,3.6, 67,1.2,
          68,-0.3, 69,-1.2, 71,-1.8, 73,-2.3, 75,-3.0, 78,-3.9, 79,-4.2, 81,-3.5, 82,1.6, 83,0.9,
          84,-3.2, 86,1.1, 87,-2.5, 89,1.6, 89,2.9, 91,0.5, 92,-2.2, 93,5.2, 95,-0.1, 97,-0.5, 98,-0.1]

curves = [
    [g_0114, g_0214, g_0224, g_0227, g_0326, g_0329, g_0403, g_0408, g_0517],
    [r_0114, r_0214, r_0224, r_0227, r_0326, r_0329, r_0403, r_0408, r_0517],
    [i_0114, i_0214, i_0224, i_0227, i_0326, i_0329, i_0403, i_0408, i_0517],
    [z_0114, z_0214, z_0224, z_0227, z_0326, z_0329, z_0403, z_0408, z_0517],
]

W, H = 830.0, 554.0
fig = plt.figure(figsize=(W / 100, H / 100), dpi=100)
axcol = '#404040'
txtcol = '#4a4a4a'


def fmt(v):
    if abs(v) < 1e-9:
        v = 0.0
    return f'{v:.3f}'.replace('-', '\u2212')


for row, band in enumerate(filters):
    for col, night in enumerate(nights):
        left = 71 + col * 84.4
        top = 5.7 + row * 128
        ax = fig.add_axes([left / W, 1 - (top + 121.5) / H, 76 / W, 121.5 / H])
        pts = curves[row][col]
        if len(pts):
            p = np.array(pts, dtype=float).reshape(-1, 2)
            ax.scatter(p[:, 0], p[:, 1] / 1000.0, s=7, color=colors[row], lw=0)
        ax.set_xlim(0, 100)
        ax.set_ylim(0.015, -0.010)
        ax.xaxis.set_major_locator(MultipleLocator(100))
        ax.xaxis.set_minor_locator(MultipleLocator(4))
        ax.set_yticks(ytick_vals)
        ax.yaxis.set_minor_locator(MultipleLocator(0.001))
        ax.tick_params(which='both', direction='in', top=True, right=True,
                       color=axcol, width=0.6, labelbottom=False)
        ax.tick_params(axis='x', which='major', length=0)
        ax.tick_params(axis='x', which='minor', length=1.5)
        ax.tick_params(axis='y', which='major', length=3)
        ax.tick_params(axis='y', which='minor', length=1.2)
        for s in ax.spines.values():
            s.set_color(axcol)
            s.set_linewidth(0.8)
        if col == 0:
            ax.set_yticklabels([fmt(v) for v in ytick_vals])
            ax.tick_params(axis='y', labelsize=9.5, labelcolor=txtcol, pad=3)
            # nudge the end labels inside so neighbouring rows don't collide
            ticks = ax.yaxis.get_major_ticks()
            lab_top, lab_bot = ticks[0].label1, ticks[-1].label1
            lab_top.set_transform(lab_top.get_transform()
                                  + ScaledTranslation(0, -0.033, fig.dpi_scale_trans))
            lab_bot.set_transform(lab_bot.get_transform()
                                  + ScaledTranslation(0, 0.03, fig.dpi_scale_trans))
        else:
            ax.tick_params(axis='y', labelleft=False)
        ax.text(0.5, 0.117, f'{night}_{band}', transform=ax.transAxes,
                ha='center', va='center', fontsize=6.3, color=colors[row])

    fig.text(8 / W, 1 - (5.7 + row * 128 + 60.75) / H, 'Diff  mag', rotation=90,
             ha='center', va='center', fontsize=9.8, color=txtcol)

for col, t0 in enumerate(bjd_start):
    xc = (71 + col * 84.4 + 38) / W
    fig.text(xc, 1 - 525.5 / H, t0, ha='center', va='center', fontsize=10, color=txtcol)
    fig.text(xc, 1 - 541 / H, 'BJD(TDB)', ha='center', va='center', fontsize=9.2, color=txtcol)

fig.savefig('out.png', dpi=100)
